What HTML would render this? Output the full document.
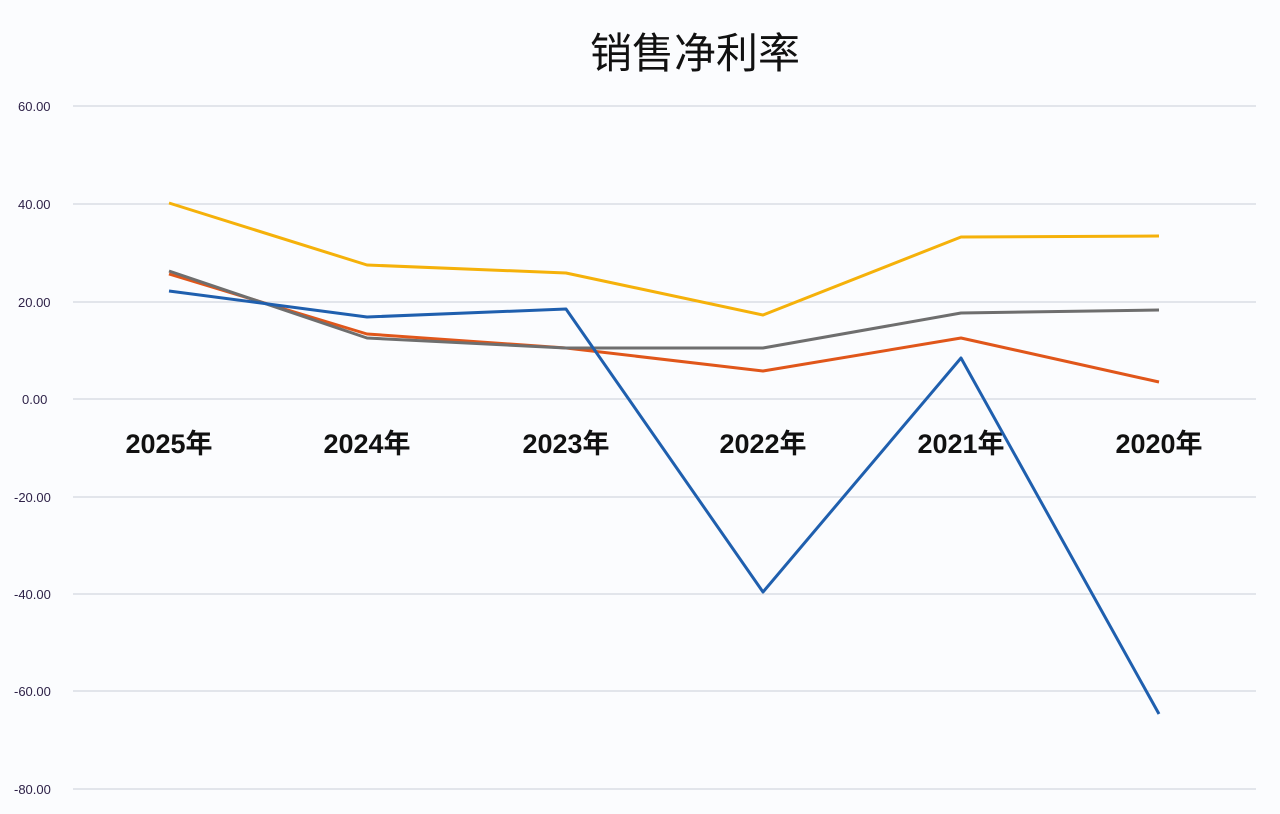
<!DOCTYPE html>
<html><head><meta charset="utf-8"><style>
html,body{margin:0;padding:0;background:#fbfcfe;}
svg{display:block}
</style></head><body>
<svg width="1280" height="814" viewBox="0 0 1280 814" xmlns="http://www.w3.org/2000/svg">
<rect width="1280" height="814" fill="#fbfcfe"/>
<text x="695" y="68" font-family="Liberation Sans, Noto Sans CJK SC, sans-serif" font-size="42" text-anchor="middle" fill="#111">销售净利率</text>
<g stroke="#d3d7e0" stroke-width="1.2">
<line x1="73" x2="1256" y1="106" y2="106"/><line x1="73" x2="1256" y1="204" y2="204"/>
<line x1="73" x2="1256" y1="302" y2="302"/><line x1="73" x2="1256" y1="399" y2="399"/>
<line x1="73" x2="1256" y1="497" y2="497"/><line x1="73" x2="1256" y1="594" y2="594"/>
<line x1="73" x2="1256" y1="691" y2="691"/><line x1="73" x2="1256" y1="789" y2="789"/>
</g>
<g font-family="Liberation Sans, sans-serif" font-size="13" fill="#2e2248">
<text x="18" y="111">60.00</text><text x="18" y="209">40.00</text><text x="18" y="307">20.00</text>
<text x="22" y="404">0.00</text><text x="14" y="502">-20.00</text><text x="14" y="599">-40.00</text>
<text x="14" y="696">-60.00</text><text x="14" y="794">-80.00</text>
</g>
<g font-family="Liberation Sans, Noto Sans CJK SC, sans-serif" font-size="27" font-weight="bold" fill="#111" text-anchor="middle">
<text x="169" y="453">2025年</text><text x="367" y="453">2024年</text><text x="566" y="453">2023年</text>
<text x="763" y="453">2022年</text><text x="961" y="453">2021年</text><text x="1159" y="453">2020年</text>
</g>
<g fill="none" stroke-width="3" stroke-linejoin="round">
<polyline stroke="#f5b10a" points="169,203 367,265 566,273 763,315 961,237 1159,236"/>
<polyline stroke="#e0561a" points="169,274 367,334 566,348 763,371 961,338 1159,382"/>
<polyline stroke="#6e6e6e" points="169,271 367,338 566,348 763,348 961,313 1159,310"/>
<polyline stroke="#1f5fae" points="169,291 367,317 566,309 763,592 961,358 1159,714"/>
</g>
</svg>
</body></html>
